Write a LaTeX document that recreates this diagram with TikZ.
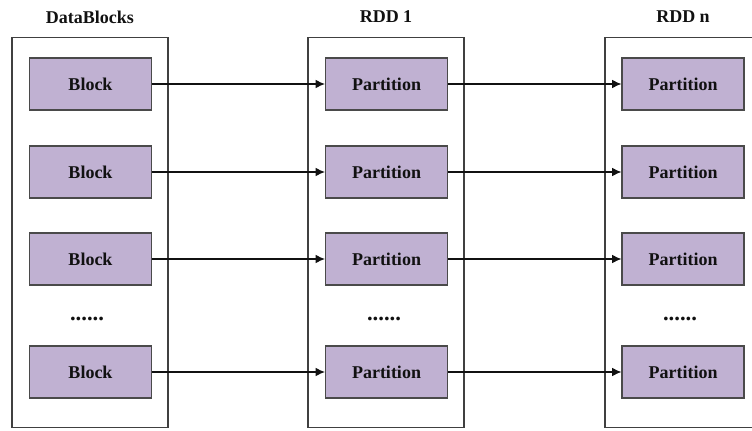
\documentclass[tikz,border=0pt]{standalone}
\usepackage{fontspec}
\setmainfont{Liberation Serif}
\usetikzlibrary{positioning,arrows.meta}
\definecolor{cLav}{HTML}{C0B1D2}
\definecolor{cEdge}{HTML}{4A4A4A}
\definecolor{cInk}{HTML}{111111}
\tikzset{
  holder/.style={rectangle,draw=black!75,line width=0.8pt,fill=white,minimum width=117pt,minimum height=293pt,inner sep=0pt},
  cell/.style={rectangle,draw=cEdge,line width=0.8pt,fill=cLav,minimum width=91.5pt,minimum height=39pt,inner sep=0pt,font=\bfseries\fontsize{13.5}{16}\selectfont,text=cInk},
  head/.style={font=\bfseries\fontsize{13.5}{16}\selectfont,text=cInk,inner sep=0pt},
  more/.style={font=\bfseries\fontsize{17}{20}\selectfont,text=cInk,inner sep=0pt},
  link/.style={-{Latex[length=7pt,width=6.5pt]},line width=0.9pt,cInk},
}

\begin{document}
\begin{tikzpicture}[x=0.75pt,y=-0.75pt]
      \clip (0,0) rectangle (752,431);
      \useasboundingbox (0,0) rectangle (752,431);
      % containers
      \node[holder] (dblk) at (90,232.5)  {};
      \node[holder] (rdd1) at (386,232.5) {};
      \node[holder] (rddn) at (683,232.5) {};
      \node[head] (tdblk) at (90,17)  {DataBlocks};
      \node[head] (trdd1) at (386,17) {RDD 1};
      \node[head] (trddn) at (683,17) {RDD n};
      % rows
      \foreach \i/\y in {1/84,2/172,3/259,4/372}{
        \node[cell] (b\i) at (90.5,\y)  {Block};
        \node[cell] (p\i) at (386.5,\y) {Partition};
        \node[cell] (q\i) at (683,\y)   {Partition};
      }
      \node[more] (mb) at (87,319)  {......};
      \node[more] (mp) at (384,319) {......};
      \node[more] (mq) at (680,319) {......};
      \foreach \i in {1,...,4}{
        \draw[link] (b\i) -- (p\i);
        \draw[link] (p\i) -- (q\i);
      }
    \end{tikzpicture}
\end{document}
